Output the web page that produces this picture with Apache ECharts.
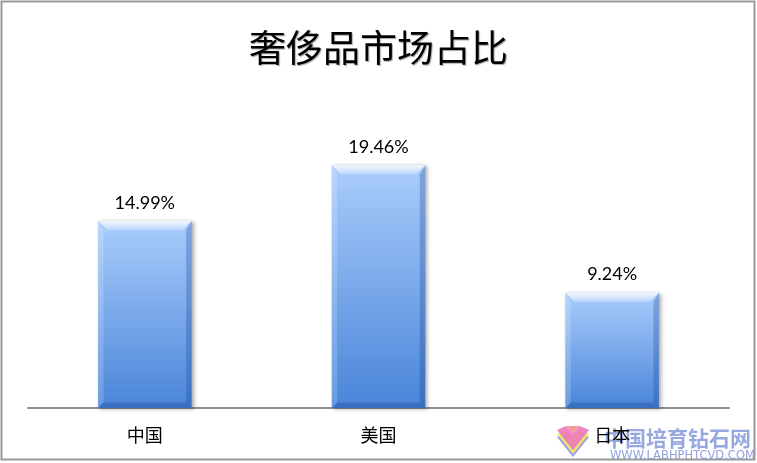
<!DOCTYPE html>
<html>
<head>
<meta charset="utf-8">
<style>
  html, body { margin: 0; padding: 0; background: #ffffff; }
  #chart { width: 757px; height: 463px; }
</style>
<script src="https://cdn.jsdelivr.net/npm/echarts@6/dist/echarts.min.js"></script>
</head>
<body>
<div id="chart"></div>
<script>
// Luxury market share by country (%)
const categories = ['中国', '美国', '日本'];
const shares = [14.99, 19.46, 9.24];
const titleText = '奢侈品市场占比';

const chart = echarts.init(document.getElementById('chart'), null, { renderer: 'canvas' });

// Bevelled column: gradient body plus light top / dark bottom-right edges
function renderBevelBar(params, api) {
  const idx = api.value(0);
  const val = api.value(1);
  const top = api.coord([idx, val]);
  const base = api.coord([idx, 0]);
  const w = api.size([1, 0])[0] * 0.40;
  const x0 = top[0] - w / 2, x1 = top[0] + w / 2;
  const y0 = top[1], y1 = base[1];
  const b = 9;
  return {
    type: 'group',
    children: [
      {
        type: 'rect',
        shape: { x: x0, y: y0, width: x1 - x0, height: y1 - y0 },
        style: {
          fill: new echarts.graphic.LinearGradient(0, 0, 0, 1, [
            { offset: 0, color: '#aacdfc' },
            { offset: 1, color: '#4985d9' }
          ]),
          shadowBlur: 4, shadowOffsetX: 2, shadowOffsetY: 1,
          shadowColor: 'rgba(0,0,0,0.35)'
        }
      },
      {
        type: 'polygon',
        shape: { points: [[x0, y0], [x1, y0], [x1 - b, y0 + b], [x0 + b, y0 + b]] },
        style: {
          fill: new echarts.graphic.LinearGradient(0, 0, 0, 1, [
            { offset: 0, color: 'rgba(255,255,255,0.85)' },
            { offset: 1, color: 'rgba(255,255,255,0.25)' }
          ])
        }
      },
      {
        type: 'polygon',
        shape: { points: [[x0, y0], [x0 + b * 0.6, y0 + b], [x0 + b * 0.6, y1 - b * 0.6], [x0, y1]] },
        style: { fill: 'rgba(255,255,255,0.18)' }
      },
      {
        type: 'polygon',
        shape: { points: [[x1, y0], [x1, y1], [x1 - b * 0.6, y1 - b * 0.6], [x1 - b * 0.6, y0 + b]] },
        style: { fill: 'rgba(20,60,140,0.28)' }
      },
      {
        type: 'polygon',
        shape: { points: [[x0, y1], [x1, y1], [x1 - b * 0.6, y1 - b * 0.6], [x0 + b * 0.6, y1 - b * 0.6]] },
        style: { fill: 'rgba(20,60,140,0.30)' }
      },
      {
        type: 'text',
        style: {
          text: val.toFixed(2) + '%',
          x: top[0], y: y0 - 18,
          align: 'center', verticalAlign: 'middle',
          fontFamily: 'Lato, "Open Sans", sans-serif',
          fontSize: 18, fill: '#000000'
        }
      }
    ]
  };
}

const option = {
  backgroundColor: '#ffffff',
  animation: false,
  title: {
    text: titleText,
    left: 'center',
    top: 24,
    textStyle: {
      fontFamily: '"Noto Sans CJK SC", sans-serif',
      fontSize: 37,
      fontWeight: 'normal',
      color: '#000000',
      textShadowColor: 'rgba(0,0,0,0.35)',
      textShadowBlur: 1,
      textShadowOffsetX: 1,
      textShadowOffsetY: 1
    }
  },
  grid: { left: 28, right: 28, top: 96, bottom: 55 },
  xAxis: {
    type: 'category',
    data: categories,
    axisLine: { lineStyle: { color: '#8e8e8e', width: 2 } },
    axisTick: { show: false },
    axisLabel: {
      margin: 18,
      fontFamily: '"Noto Sans CJK SC", sans-serif',
      fontSize: 18,
      color: '#000000'
    }
  },
  yAxis: {
    type: 'value',
    min: 0,
    max: 25,
    show: false,
    splitLine: { show: false }
  },
  series: [{
    type: 'custom',
    renderItem: renderBevelBar,
    encode: { x: 0, y: 1 },
    data: shares.map((v, i) => [i, v]),
    z: 3
  }],
  graphic: [
    {
      type: 'rect',
      shape: { x: 1.5, y: 1.5, width: 753, height: 458 },
      style: { fill: 'none', stroke: '#9a9a9a', lineWidth: 2 },
      silent: true
    },
    {
      type: 'group',
      silent: true,
      z: 100,
      children: [
        { type: 'polygon', shape: { points: [[557, 437], [566, 433], [573, 440], [580, 433], [589, 437], [573, 457]] }, style: { fill: 'rgba(140,140,230,0.85)' } },
        { type: 'polygon', shape: { points: [[557, 434], [566, 430], [573, 437], [580, 430], [589, 434], [573, 454]] }, style: { fill: 'rgba(245,235,90,0.9)' } },
        { type: 'polygon', shape: { points: [[557, 430], [566, 426], [573, 433], [580, 426], [589, 430], [573, 450]] }, style: { fill: 'rgba(236,120,190,0.9)' } },
        { type: 'polygon', shape: { points: [[566, 426], [573, 433], [580, 426]] }, style: { fill: 'rgba(245,150,150,0.95)' } },
        {
          type: 'text',
          style: {
            text: '中国培育钻石网', x: 604, y: 438,
            verticalAlign: 'middle',
            fontFamily: '"Noto Sans CJK SC", sans-serif',
            fontSize: 21, fontWeight: 'bold',
            fill: 'rgba(125,145,215,0.8)'
          }
        },
        {
          type: 'text',
          style: {
            text: 'WWW.LABHPHTCVD.COM', x: 610, y: 456,
            verticalAlign: 'middle',
            fontFamily: '"DejaVu Sans", sans-serif',
            fontSize: 11.5,
            fill: 'rgba(125,145,215,0.85)'
          }
        }
      ]
    }
  ]
};

chart.setOption(option);
</script>
</body>
</html>
